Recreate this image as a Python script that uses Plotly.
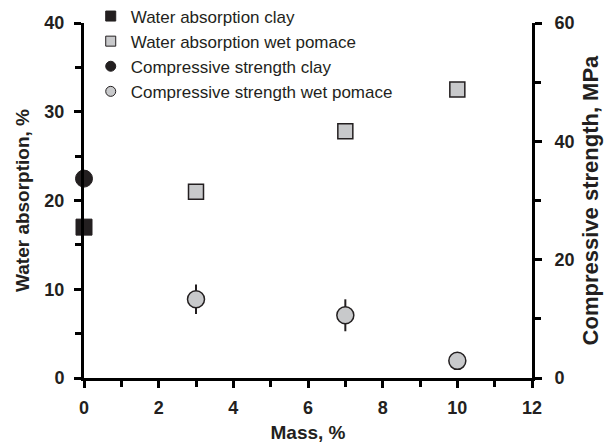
import plotly.graph_objects as go

# Data
mass_clay = [0]
wa_clay = [17.0]
mass_pomace = [3, 7, 10]
wa_pomace = [21.0, 27.8, 32.5]
cs_clay = [33.7]
cs_pomace = [13.3, 10.6, 2.9]
cs_pomace_err = [2.5, 2.7, 0]

x_ticks = [0, 2, 4, 6, 8, 10, 12]
y_ticks = [0, 10, 20, 30, 40]
y2_ticks = [0, 20, 40, 60]

dark = "#231f20"
gray = "#c8c9cb"
font_family = "Arial, Liberation Sans, sans-serif"

fig = go.Figure()

fig.add_trace(go.Scatter(x=mass_clay, y=wa_clay, mode="markers", showlegend=False,
                         marker=dict(symbol="square", size=16, color=dark,
                                     line=dict(color=dark, width=1)), cliponaxis=False))
fig.add_trace(go.Scatter(x=mass_pomace, y=wa_pomace, mode="markers", showlegend=False,
                         marker=dict(symbol="square", size=15, color=gray,
                                     line=dict(color=dark, width=1.5)), cliponaxis=False))
fig.add_trace(go.Scatter(x=mass_clay, y=cs_clay, mode="markers", showlegend=False, yaxis="y2",
                         marker=dict(symbol="circle", size=17, color=dark,
                                     line=dict(color=dark, width=1)), cliponaxis=False))
fig.add_trace(go.Scatter(x=mass_pomace, y=cs_pomace, mode="markers", showlegend=False, yaxis="y2",
                         error_y=dict(type="data", array=cs_pomace_err, color=dark, thickness=2, width=0),
                         marker=dict(symbol="circle", size=17, color=gray,
                                     line=dict(color=dark, width=1.5)), cliponaxis=False))

legend_items = [
    ("Water absorption clay", "square", dark),
    ("Water absorption wet pomace", "square", gray),
    ("Compressive strength clay", "circle", dark),
    ("Compressive strength wet pomace", "circle", gray),
]
for name, sym, col in legend_items:
    fig.add_trace(go.Scatter(x=[None], y=[None], mode="markers", name=name,
                             marker=dict(symbol=sym, size=10, color=col,
                                         line=dict(color=dark, width=1))))

tickfont = dict(size=18, family=font_family, color=dark, weight="bold")
axis_common = dict(showline=True, linecolor="black", linewidth=3, showgrid=False, zeroline=False,
                   ticks="outside", ticklen=7, tickwidth=3, tickcolor="black", tickfont=tickfont)
minor = lambda d: dict(dtick=d, ticks="outside", ticklen=6, tickwidth=3, tickcolor="black")

fig.update_layout(
    width=604, height=446,
    margin=dict(l=84, r=72, t=23, b=68, autoexpand=False),
    plot_bgcolor="white", paper_bgcolor="white",
    font=dict(family=font_family, color=dark),
    xaxis=dict(range=[0, 12], tickvals=x_ticks, ticktext=[str(v) for v in x_ticks], **axis_common,
               minor=minor(1), ticklabelstandoff=4,
               title=dict(text="Mass, %", font=dict(size=19, weight="bold"), standoff=10)),
    yaxis=dict(range=[0, 40], tickvals=y_ticks, ticktext=[str(v) for v in y_ticks], **axis_common,
               minor=minor(5), ticklabelstandoff=6,
               title=dict(text="Water absorption, %", font=dict(size=19, weight="bold"), standoff=10)),
    yaxis2=dict(range=[0, 60], tickvals=y2_ticks, ticktext=[str(v) for v in y2_ticks],
                overlaying="y", side="right", anchor="x", **axis_common,
                minor=minor(10), ticklabelstandoff=9,
                title=dict(text="Compressive strength, MPa", font=dict(size=22, weight="bold"), standoff=9)),
    legend=dict(x=0.015, y=1.069, xanchor="left", yanchor="top", bgcolor="rgba(0,0,0,0)",
                font=dict(size=17, family=font_family, color=dark),
                tracegroupgap=0, itemwidth=30),
)

fig.write_html("out.html")
